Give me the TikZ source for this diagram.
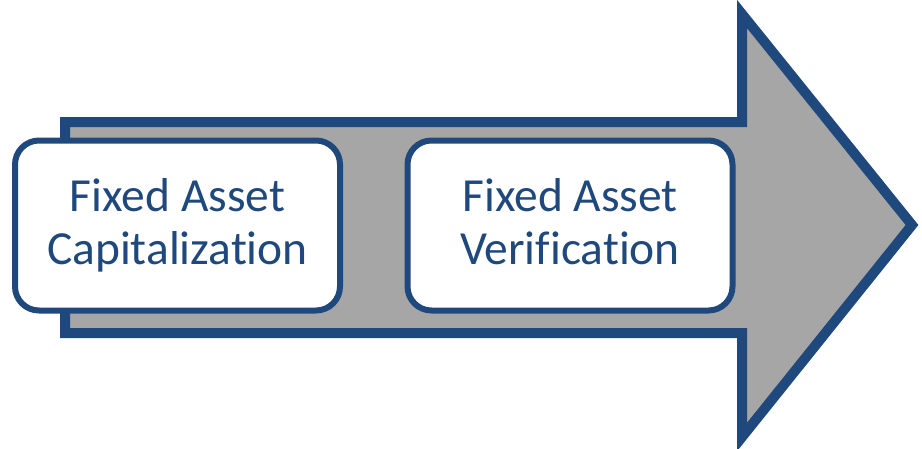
\documentclass[tikz,border=0pt]{standalone}
\usepackage{fontspec}
\setmainfont[Ligatures={NoCommon}]{Carlito}
\definecolor{navy}{HTML}{1F497D}
\definecolor{arrowgrey}{HTML}{A6A6A6}
\begin{document}
\begin{tikzpicture}[x=1pt,y=-1pt,
  stagebox/.style={draw=navy,line width=6pt,fill=white,rounded corners=24pt,
    minimum width=325pt,minimum height=170pt,inner sep=0pt,align=center,
    text=navy,font=\fontsize{47.5}{53}\selectfont},
  bigarrow/.style={draw=navy,line width=10pt,fill=arrowgrey,line join=miter}]
\useasboundingbox (0,0) rectangle (922,448);
\draw[bigarrow] (65,122) -- (742,122) -- (742,14) -- (912,225) -- (742,437) -- (742,333) -- (65,333) -- cycle;
\node[stagebox] (cap) at (177.5,225.5) {Fixed Asset\\Capitalization};
\node[stagebox] (ver) at (570,225.5) {Fixed Asset\\Verification\vphantom{p}};
\end{tikzpicture}
\end{document}
